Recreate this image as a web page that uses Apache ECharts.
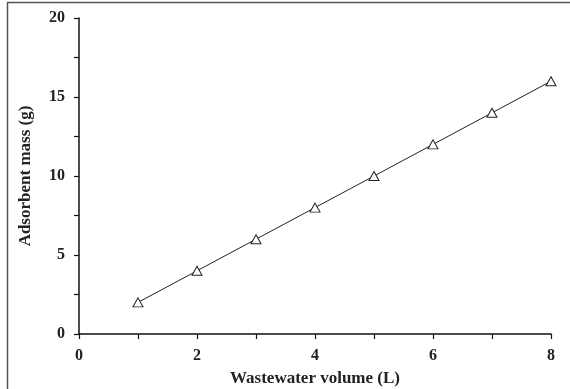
<!DOCTYPE html>
<html>
<head>
<meta charset="utf-8">
<script src="https://cdn.jsdelivr.net/npm/echarts@6/dist/echarts.min.js"></script>
<style>
  html, body { margin: 0; padding: 0; background: #fff; }
  #chart { width: 570px; height: 389px; }
</style>
</head>
<body>
<div id="chart"></div>
<script>
// Wastewater volume (L) vs. required adsorbent mass (g)
const volumes = [1, 2, 3, 4, 5, 6, 7, 8];
const masses = [2, 4, 6, 8, 10, 12, 14, 16];

const fontFamily = '"Liberation Serif", "Times New Roman", serif';

const chart = echarts.init(document.getElementById('chart'));
chart.setOption({
  animation: false,
  backgroundColor: '#fff',
  graphic: [{
    type: 'rect',
    shape: { x: 7.5, y: 2.5, width: 600, height: 420 },
    style: { fill: 'none', stroke: '#555', lineWidth: 1.5 },
    silent: true
  }],
  grid: { left: 79, right: 19, top: 18, bottom: 55, containLabel: false, outerBoundsMode: 'none' },
  xAxis: {
    type: 'value',
    min: 0, max: 8, interval: 1,
    name: 'Wastewater volume (L)',
    nameLocation: 'middle',
    nameGap: 36,
    nameTextStyle: { fontFamily, fontWeight: 'bold', fontSize: 17, color: '#222' },
    axisLine: { lineStyle: { color: '#111', width: 1.5 } },
    axisTick: { length: 5, lineStyle: { color: '#111', width: 1.2 } },
    axisLabel: {
      margin: 14,
      fontFamily, fontWeight: 'bold', fontSize: 16, color: '#222',
      formatter: v => (v % 2 === 0 ? String(v) : '')
    },
    splitLine: { show: false }
  },
  yAxis: {
    type: 'value',
    min: 0, max: 20, interval: 2.5,
    name: 'Adsorbent mass (g)',
    nameLocation: 'middle',
    nameGap: 45,
    nameTextStyle: { fontFamily, fontWeight: 'bold', fontSize: 17, color: '#222' },
    axisLine: { show: true, lineStyle: { color: '#111', width: 1.5 } },
    axisTick: { show: true, length: 5, lineStyle: { color: '#111', width: 1.2 } },
    axisLabel: {
      margin: 14,
      fontFamily, fontWeight: 'bold', fontSize: 16, color: '#222',
      formatter: v => (v % 5 === 0 ? String(v) : '')
    },
    splitLine: { show: false }
  },
  series: [{
    type: 'line',
    data: volumes.map((v, i) => [v, masses[i]]),
    symbol: 'triangle',
    symbolSize: [10, 9],
    showAllSymbol: true,
    lineStyle: { color: '#222', width: 1 },
    itemStyle: { color: '#fff', borderColor: '#222', borderWidth: 1 }
  }]
});
</script>
</body>
</html>
